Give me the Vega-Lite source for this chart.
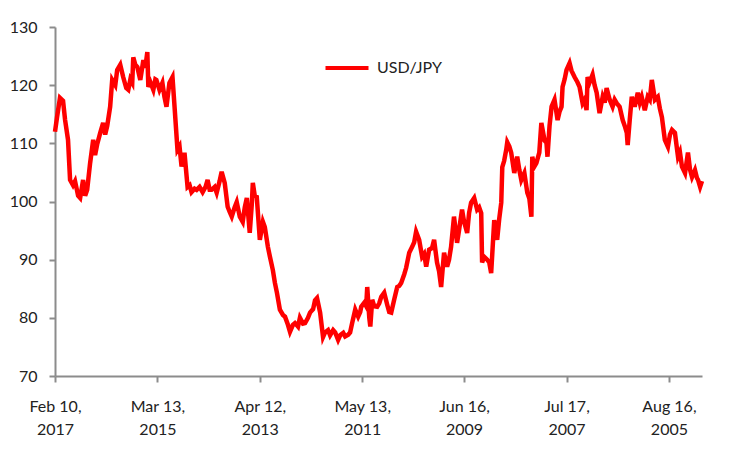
{
  "$schema": "https://vega.github.io/schema/vega-lite/v6.json",
  "width": 647,
  "height": 349,
  "autosize": {"type": "none"},
  "padding": {"left": 55, "top": 27, "right": 48, "bottom": 74},
  "background": "white",
  "data": {
    "values": [
      {"date": "2017-02-10", "rate": 112.0},
      {"date": "2017-01-27", "rate": 114.5},
      {"date": "2017-01-07", "rate": 117.8},
      {"date": "2016-12-17", "rate": 117.3},
      {"date": "2016-12-03", "rate": 114.0},
      {"date": "2016-11-13", "rate": 110.6},
      {"date": "2016-10-30", "rate": 103.7},
      {"date": "2016-10-10", "rate": 102.8},
      {"date": "2016-09-26", "rate": 103.5},
      {"date": "2016-09-05", "rate": 101.0},
      {"date": "2016-08-22", "rate": 100.6},
      {"date": "2016-08-02", "rate": 103.7},
      {"date": "2016-07-19", "rate": 101.0},
      {"date": "2016-07-05", "rate": 102.0},
      {"date": "2016-06-15", "rate": 106.6},
      {"date": "2016-05-25", "rate": 110.6},
      {"date": "2016-05-12", "rate": 108.0},
      {"date": "2016-04-28", "rate": 109.8},
      {"date": "2016-04-07", "rate": 111.8},
      {"date": "2016-03-18", "rate": 113.5},
      {"date": "2016-03-04", "rate": 111.5},
      {"date": "2016-02-19", "rate": 113.0},
      {"date": "2016-01-30", "rate": 116.3},
      {"date": "2016-01-16", "rate": 120.9},
      {"date": "2015-12-26", "rate": 120.0},
      {"date": "2015-12-13", "rate": 122.6},
      {"date": "2015-11-22", "rate": 123.5},
      {"date": "2015-11-02", "rate": 121.4},
      {"date": "2015-10-12", "rate": 119.5},
      {"date": "2015-09-28", "rate": 119.2},
      {"date": "2015-09-14", "rate": 121.0},
      {"date": "2015-09-01", "rate": 120.4},
      {"date": "2015-08-25", "rate": 124.8},
      {"date": "2015-08-11", "rate": 123.5},
      {"date": "2015-07-28", "rate": 123.1},
      {"date": "2015-07-08", "rate": 120.9},
      {"date": "2015-06-17", "rate": 124.3},
      {"date": "2015-06-04", "rate": 123.0},
      {"date": "2015-05-21", "rate": 125.7},
      {"date": "2015-05-14", "rate": 119.7},
      {"date": "2015-04-30", "rate": 120.5},
      {"date": "2015-04-10", "rate": 119.2},
      {"date": "2015-03-27", "rate": 121.0},
      {"date": "2015-03-20", "rate": 120.9},
      {"date": "2015-02-27", "rate": 119.2},
      {"date": "2015-02-07", "rate": 120.4},
      {"date": "2015-01-24", "rate": 118.0},
      {"date": "2015-01-10", "rate": 116.3},
      {"date": "2014-12-21", "rate": 120.4},
      {"date": "2014-11-30", "rate": 121.4},
      {"date": "2014-11-16", "rate": 116.3},
      {"date": "2014-10-27", "rate": 108.9},
      {"date": "2014-10-13", "rate": 109.5},
      {"date": "2014-09-29", "rate": 106.0},
      {"date": "2014-09-09", "rate": 108.4},
      {"date": "2014-08-19", "rate": 102.5},
      {"date": "2014-08-05", "rate": 102.8},
      {"date": "2014-07-23", "rate": 101.6},
      {"date": "2014-07-02", "rate": 102.2},
      {"date": "2014-06-18", "rate": 102.0},
      {"date": "2014-05-29", "rate": 102.5},
      {"date": "2014-05-08", "rate": 101.6},
      {"date": "2014-04-18", "rate": 102.5},
      {"date": "2014-04-04", "rate": 103.7},
      {"date": "2014-03-21", "rate": 102.0},
      {"date": "2014-03-08", "rate": 102.0},
      {"date": "2014-02-15", "rate": 102.5},
      {"date": "2014-02-01", "rate": 101.5},
      {"date": "2014-01-12", "rate": 103.5},
      {"date": "2013-12-29", "rate": 105.1},
      {"date": "2013-12-08", "rate": 103.2},
      {"date": "2013-11-18", "rate": 99.1},
      {"date": "2013-11-04", "rate": 98.2},
      {"date": "2013-10-21", "rate": 97.4},
      {"date": "2013-10-01", "rate": 99.0},
      {"date": "2013-09-17", "rate": 99.9},
      {"date": "2013-08-27", "rate": 97.4},
      {"date": "2013-08-07", "rate": 96.5},
      {"date": "2013-07-24", "rate": 99.0},
      {"date": "2013-07-10", "rate": 100.6},
      {"date": "2013-06-20", "rate": 94.6},
      {"date": "2013-06-06", "rate": 99.5},
      {"date": "2013-05-30", "rate": 103.2},
      {"date": "2013-05-17", "rate": 101.0},
      {"date": "2013-05-03", "rate": 100.8},
      {"date": "2013-04-12", "rate": 93.4},
      {"date": "2013-03-22", "rate": 96.5},
      {"date": "2013-03-09", "rate": 95.6},
      {"date": "2013-02-16", "rate": 92.2},
      {"date": "2013-02-02", "rate": 90.5},
      {"date": "2013-01-13", "rate": 88.2},
      {"date": "2012-12-30", "rate": 86.0},
      {"date": "2012-12-16", "rate": 84.3},
      {"date": "2012-11-26", "rate": 81.4},
      {"date": "2012-11-05", "rate": 80.5},
      {"date": "2012-10-22", "rate": 80.2},
      {"date": "2012-10-02", "rate": 78.8},
      {"date": "2012-09-18", "rate": 77.6},
      {"date": "2012-08-29", "rate": 78.8},
      {"date": "2012-08-15", "rate": 79.1},
      {"date": "2012-07-25", "rate": 78.5},
      {"date": "2012-07-12", "rate": 80.0},
      {"date": "2012-06-21", "rate": 79.0},
      {"date": "2012-06-07", "rate": 79.1},
      {"date": "2012-05-18", "rate": 80.0},
      {"date": "2012-05-04", "rate": 80.9},
      {"date": "2012-04-13", "rate": 81.5},
      {"date": "2012-03-31", "rate": 83.0},
      {"date": "2012-03-17", "rate": 83.4},
      {"date": "2012-02-25", "rate": 80.9},
      {"date": "2012-02-05", "rate": 76.7},
      {"date": "2012-01-22", "rate": 77.5},
      {"date": "2012-01-02", "rate": 77.9},
      {"date": "2011-12-19", "rate": 77.0},
      {"date": "2011-11-28", "rate": 77.9},
      {"date": "2011-11-14", "rate": 77.5},
      {"date": "2011-10-25", "rate": 76.2},
      {"date": "2011-10-11", "rate": 77.0},
      {"date": "2011-09-20", "rate": 77.4},
      {"date": "2011-09-07", "rate": 76.8},
      {"date": "2011-08-17", "rate": 77.1},
      {"date": "2011-08-04", "rate": 77.5},
      {"date": "2011-07-21", "rate": 79.1},
      {"date": "2011-06-30", "rate": 81.4},
      {"date": "2011-06-10", "rate": 80.2},
      {"date": "2011-05-27", "rate": 81.0},
      {"date": "2011-05-20", "rate": 81.9},
      {"date": "2011-04-29", "rate": 82.6},
      {"date": "2011-04-16", "rate": 82.0},
      {"date": "2011-04-09", "rate": 85.3},
      {"date": "2011-03-26", "rate": 80.0},
      {"date": "2011-03-19", "rate": 78.5},
      {"date": "2011-03-06", "rate": 83.1},
      {"date": "2011-02-20", "rate": 82.0},
      {"date": "2011-01-31", "rate": 81.9},
      {"date": "2011-01-17", "rate": 82.5},
      {"date": "2011-01-03", "rate": 83.6},
      {"date": "2010-12-14", "rate": 84.3},
      {"date": "2010-11-23", "rate": 82.2},
      {"date": "2010-11-10", "rate": 81.0},
      {"date": "2010-10-27", "rate": 80.9},
      {"date": "2010-10-07", "rate": 83.1},
      {"date": "2010-09-16", "rate": 85.3},
      {"date": "2010-09-02", "rate": 85.5},
      {"date": "2010-08-20", "rate": 86.0},
      {"date": "2010-07-30", "rate": 87.5},
      {"date": "2010-07-17", "rate": 88.6},
      {"date": "2010-06-26", "rate": 91.2},
      {"date": "2010-06-06", "rate": 92.2},
      {"date": "2010-05-23", "rate": 93.0},
      {"date": "2010-05-10", "rate": 94.8},
      {"date": "2010-04-19", "rate": 93.4},
      {"date": "2010-03-30", "rate": 90.5},
      {"date": "2010-03-16", "rate": 91.0},
      {"date": "2010-03-02", "rate": 88.8},
      {"date": "2010-02-10", "rate": 91.7},
      {"date": "2010-01-21", "rate": 92.0},
      {"date": "2010-01-07", "rate": 93.4},
      {"date": "2009-12-18", "rate": 89.5},
      {"date": "2009-12-04", "rate": 88.0},
      {"date": "2009-11-20", "rate": 85.3},
      {"date": "2009-10-31", "rate": 91.2},
      {"date": "2009-10-10", "rate": 88.8},
      {"date": "2009-09-27", "rate": 90.0},
      {"date": "2009-09-13", "rate": 92.2},
      {"date": "2009-08-24", "rate": 97.4},
      {"date": "2009-08-03", "rate": 92.9},
      {"date": "2009-07-21", "rate": 95.0},
      {"date": "2009-06-30", "rate": 98.6},
      {"date": "2009-06-16", "rate": 96.5},
      {"date": "2009-05-26", "rate": 94.6},
      {"date": "2009-05-13", "rate": 98.0},
      {"date": "2009-04-29", "rate": 99.8},
      {"date": "2009-04-08", "rate": 100.6},
      {"date": "2009-03-19", "rate": 98.6},
      {"date": "2009-03-05", "rate": 99.0},
      {"date": "2009-02-19", "rate": 98.0},
      {"date": "2009-02-13", "rate": 89.5},
      {"date": "2009-01-30", "rate": 90.5},
      {"date": "2009-01-09", "rate": 90.0},
      {"date": "2008-12-26", "rate": 89.5},
      {"date": "2008-12-13", "rate": 87.7},
      {"date": "2008-11-22", "rate": 96.8},
      {"date": "2008-11-02", "rate": 93.4},
      {"date": "2008-10-19", "rate": 97.0},
      {"date": "2008-10-05", "rate": 99.8},
      {"date": "2008-09-28", "rate": 105.9},
      {"date": "2008-09-15", "rate": 107.0},
      {"date": "2008-09-01", "rate": 108.9},
      {"date": "2008-08-25", "rate": 110.2},
      {"date": "2008-08-11", "rate": 109.5},
      {"date": "2008-07-29", "rate": 108.4},
      {"date": "2008-07-08", "rate": 104.9},
      {"date": "2008-06-18", "rate": 107.7},
      {"date": "2008-06-04", "rate": 105.5},
      {"date": "2008-05-21", "rate": 103.7},
      {"date": "2008-04-30", "rate": 104.9},
      {"date": "2008-04-10", "rate": 101.5},
      {"date": "2008-03-27", "rate": 100.5},
      {"date": "2008-03-13", "rate": 97.4},
      {"date": "2008-03-07", "rate": 107.7},
      {"date": "2008-02-22", "rate": 106.0},
      {"date": "2008-02-08", "rate": 106.6},
      {"date": "2008-01-19", "rate": 108.4},
      {"date": "2008-01-05", "rate": 113.5},
      {"date": "2007-12-14", "rate": 110.5},
      {"date": "2007-12-01", "rate": 110.1},
      {"date": "2007-11-24", "rate": 107.7},
      {"date": "2007-11-10", "rate": 113.0},
      {"date": "2007-10-27", "rate": 116.3},
      {"date": "2007-10-07", "rate": 117.5},
      {"date": "2007-09-16", "rate": 114.0},
      {"date": "2007-09-02", "rate": 115.5},
      {"date": "2007-08-20", "rate": 116.3},
      {"date": "2007-08-13", "rate": 119.7},
      {"date": "2007-07-30", "rate": 121.0},
      {"date": "2007-07-17", "rate": 122.6},
      {"date": "2007-06-26", "rate": 123.8},
      {"date": "2007-06-13", "rate": 122.5},
      {"date": "2007-05-23", "rate": 121.4},
      {"date": "2007-05-03", "rate": 120.5},
      {"date": "2007-04-19", "rate": 119.7},
      {"date": "2007-03-29", "rate": 116.9},
      {"date": "2007-03-16", "rate": 117.5},
      {"date": "2007-03-02", "rate": 115.7},
      {"date": "2007-02-23", "rate": 121.4},
      {"date": "2007-02-09", "rate": 120.5},
      {"date": "2007-01-20", "rate": 121.8},
      {"date": "2007-01-06", "rate": 120.0},
      {"date": "2006-12-23", "rate": 118.7},
      {"date": "2006-12-03", "rate": 115.2},
      {"date": "2006-11-12", "rate": 118.0},
      {"date": "2006-10-29", "rate": 117.0},
      {"date": "2006-10-16", "rate": 119.5},
      {"date": "2006-09-25", "rate": 117.5},
      {"date": "2006-09-05", "rate": 116.3},
      {"date": "2006-08-22", "rate": 117.5},
      {"date": "2006-08-08", "rate": 116.9},
      {"date": "2006-07-19", "rate": 116.3},
      {"date": "2006-06-28", "rate": 114.0},
      {"date": "2006-06-14", "rate": 113.0},
      {"date": "2006-05-31", "rate": 111.8},
      {"date": "2006-05-25", "rate": 109.7},
      {"date": "2006-05-11", "rate": 114.0},
      {"date": "2006-04-27", "rate": 118.0},
      {"date": "2006-04-07", "rate": 116.3},
      {"date": "2006-03-17", "rate": 118.7},
      {"date": "2006-03-03", "rate": 117.0},
      {"date": "2006-02-18", "rate": 118.0},
      {"date": "2006-01-28", "rate": 115.7},
      {"date": "2006-01-08", "rate": 118.0},
      {"date": "2005-12-25", "rate": 117.5},
      {"date": "2005-12-11", "rate": 120.9},
      {"date": "2005-11-20", "rate": 117.5},
      {"date": "2005-10-31", "rate": 118.0},
      {"date": "2005-10-17", "rate": 116.0},
      {"date": "2005-10-03", "rate": 114.5},
      {"date": "2005-09-13", "rate": 110.6},
      {"date": "2005-08-23", "rate": 109.4},
      {"date": "2005-08-09", "rate": 111.5},
      {"date": "2005-07-26", "rate": 112.3},
      {"date": "2005-07-06", "rate": 111.8},
      {"date": "2005-06-15", "rate": 107.7},
      {"date": "2005-06-02", "rate": 108.5},
      {"date": "2005-05-19", "rate": 106.0},
      {"date": "2005-04-28", "rate": 104.9},
      {"date": "2005-04-08", "rate": 108.4},
      {"date": "2005-03-25", "rate": 105.5},
      {"date": "2005-03-11", "rate": 104.2},
      {"date": "2005-02-19", "rate": 105.4},
      {"date": "2005-02-05", "rate": 104.0},
      {"date": "2005-01-29", "rate": 103.7},
      {"date": "2005-01-15", "rate": 102.5},
      {"date": "2005-01-02", "rate": 103.5}
    ]
  },
  "transform": [{"calculate": "'USD/JPY'", "as": "series"}],
  "mark": {"type": "line", "strokeWidth": 4.5, "strokeJoin": "miter", "interpolate": "linear"},
  "encoding": {
    "x": {
      "field": "date",
      "type": "temporal",
      "scale": {
        "type": "utc",
        "domain": [
          {"year": 2005, "month": 1, "date": 2, "utc": true},
          {"year": 2017, "month": 2, "date": 10, "utc": true}
        ],
        "reverse": true,
        "nice": false
      },
      "axis": {
        "title": null,
        "grid": false,
        "values": [
          {"year": 2017, "month": 2, "date": 10, "utc": true},
          {"year": 2015, "month": 3, "date": 13, "utc": true},
          {"year": 2013, "month": 4, "date": 12, "utc": true},
          {"year": 2011, "month": 5, "date": 13, "utc": true},
          {"year": 2009, "month": 6, "date": 16, "utc": true},
          {"year": 2007, "month": 7, "date": 17, "utc": true},
          {"year": 2005, "month": 8, "date": 16, "utc": true}
        ],
        "labelExpr": "[utcFormat(datum.value, '%b %d,'), utcFormat(datum.value, '%Y')]",
        "labelLineHeight": 23,
        "labelPadding": 16,
        "labelFlush": false,
        "labelOverlap": false
      }
    },
    "y": {
      "field": "rate",
      "type": "quantitative",
      "scale": {"domain": [70, 130], "nice": false, "zero": false},
      "axis": {"title": null, "grid": false, "values": [70, 80, 90, 100, 110, 120, 130], "labelPadding": 12}
    },
    "color": {
      "field": "series",
      "type": "nominal",
      "scale": {"range": ["#ff0000"]},
      "legend": {
        "title": null,
        "orient": "none",
        "legendX": 268,
        "legendY": 17,
        "symbolType": "stroke",
        "symbolSize": 1850,
        "symbolStrokeWidth": 4,
        "labelFontSize": 16,
        "labelColor": "#222222",
        "labelFont": "Lato",
        "labelOffset": 6
      }
    }
  },
  "config": {
    "view": {"stroke": null},
    "axis": {
      "domainColor": "#8c8c8c",
      "domainWidth": 2,
      "tickColor": "#8c8c8c",
      "tickWidth": 2,
      "tickSize": 6,
      "labelFont": "Lato",
      "labelFontSize": 16,
      "labelColor": "#222222"
    }
  }
}
